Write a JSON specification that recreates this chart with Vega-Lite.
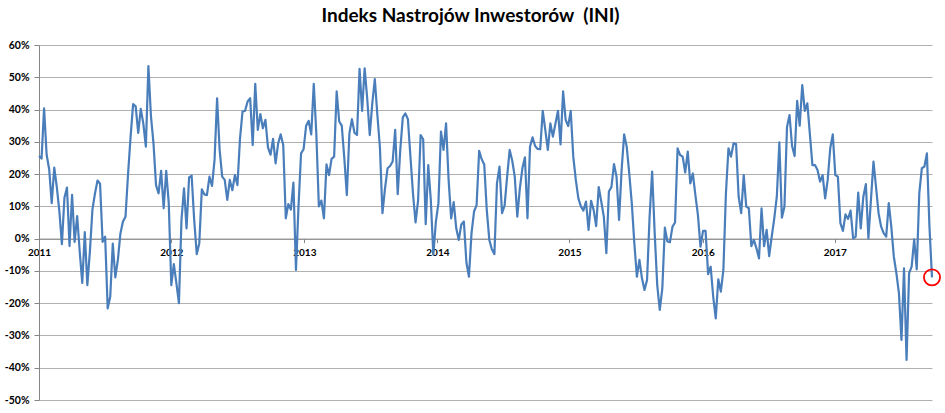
{
"$schema": "https://vega.github.io/schema/vega-lite/v6.json",
"width": 893, "height": 355,
"autosize": {"type": "none"},
"padding": {"left": 39, "top": 45, "right": 13, "bottom": 13},
"background": "white",
"title": {"text": "Indeks Nastrojów Inwestorów \u00a0(INI)", "font": "Lato", "fontSize": 19, "fontWeight": "bold", "color": "#000000", "anchor": "middle", "dx": -15, "offset": -1, "baseline": "alphabetic"},
"config": {"view": {"stroke": null}},
"data": {"values": [
{"w":0,"v":25.6},{"w":1,"v":24.8},{"w":2,"v":40.4},{"w":3,"v":26},{"w":4,"v":21.5},{"w":5,"v":11},{"w":6,"v":22},{"w":7,"v":16},{"w":8,"v":8.5},{"w":9,"v":-1.7},
{"w":10,"v":12.7},{"w":11,"v":15.8},{"w":12,"v":-2.3},{"w":13,"v":13.6},{"w":14,"v":-1},{"w":15,"v":7},{"w":16,"v":-4},{"w":17,"v":-13.7},{"w":18,"v":2},{"w":19,"v":-14.4},
{"w":20,"v":-4},{"w":21,"v":9},{"w":22,"v":14},{"w":23,"v":18},{"w":24,"v":17},{"w":25,"v":-1},{"w":26,"v":0.6},{"w":27,"v":-21.6},{"w":28,"v":-18},{"w":29,"v":-1.5},
{"w":30,"v":-12},{"w":31,"v":-6.6},{"w":32,"v":1.6},{"w":33,"v":5.3},{"w":34,"v":6.8},{"w":35,"v":20},{"w":36,"v":31.6},{"w":37,"v":41.7},{"w":38,"v":41},{"w":39,"v":32.8},
{"w":40,"v":40.2},{"w":41,"v":35.7},{"w":42,"v":28.5},{"w":43,"v":53.5},{"w":44,"v":38},{"w":45,"v":29.5},{"w":46,"v":16.6},{"w":47,"v":14},{"w":48,"v":21},{"w":49,"v":9.4},
{"w":50,"v":21},{"w":51,"v":11},{"w":52,"v":-14.4},{"w":53,"v":-7.9},{"w":54,"v":-13.8},{"w":55,"v":-20},{"w":56,"v":5.8},{"w":57,"v":15.6},{"w":58,"v":3.2},{"w":59,"v":19},
{"w":60,"v":19.5},{"w":61,"v":5.8},{"w":62,"v":-4.8},{"w":63,"v":-1.4},{"w":64,"v":15.3},{"w":65,"v":13.7},{"w":66,"v":13.5},{"w":67,"v":19.2},{"w":68,"v":16.3},{"w":69,"v":24.4},
{"w":70,"v":43.5},{"w":71,"v":27.5},{"w":72,"v":19.2},{"w":73,"v":18.2},{"w":74,"v":12},{"w":75,"v":18.2},{"w":76,"v":15},{"w":77,"v":19.7},{"w":78,"v":16.6},{"w":79,"v":31},
{"w":80,"v":39.4},{"w":81,"v":39.6},{"w":82,"v":42.5},{"w":83,"v":43.5},{"w":84,"v":29},{"w":85,"v":48},{"w":86,"v":33.7},{"w":87,"v":38.6},{"w":88,"v":34.2},{"w":89,"v":36.8},
{"w":90,"v":28.3},{"w":91,"v":26},{"w":92,"v":30.9},{"w":93,"v":23.3},{"w":94,"v":29.5},{"w":95,"v":32.3},{"w":96,"v":29},{"w":97,"v":6.3},{"w":98,"v":10.7},{"w":99,"v":9},
{"w":100,"v":17.4},{"w":101,"v":-9.7},{"w":102,"v":10},{"w":103,"v":26.4},{"w":104,"v":27.7},{"w":105,"v":35},{"w":106,"v":36.5},{"w":107,"v":32.3},{"w":108,"v":48},{"w":109,"v":32.6},
{"w":110,"v":10},{"w":111,"v":11.8},{"w":112,"v":6.3},{"w":113,"v":23},{"w":114,"v":19.7},{"w":115,"v":24.7},{"w":116,"v":25.4},{"w":117,"v":45.6},{"w":118,"v":36.3},{"w":119,"v":35},
{"w":120,"v":25},{"w":121,"v":13.5},{"w":122,"v":32.6},{"w":123,"v":37},{"w":124,"v":32.8},{"w":125,"v":32.1},{"w":126,"v":52.6},{"w":127,"v":39.6},{"w":128,"v":52.8},{"w":129,"v":43.5},
{"w":130,"v":32.1},{"w":131,"v":41.9},{"w":132,"v":49.4},{"w":133,"v":38.3},{"w":134,"v":28.3},{"w":135,"v":7.9},{"w":136,"v":15.6},{"w":137,"v":21.8},{"w":138,"v":22.5},{"w":139,"v":23.9},
{"w":140,"v":33.7},{"w":141,"v":13.8},{"w":142,"v":27.5},{"w":143,"v":37.6},{"w":144,"v":38.8},{"w":145,"v":37},{"w":146,"v":25.4},{"w":147,"v":14},{"w":148,"v":5},{"w":149,"v":11.8},
{"w":150,"v":32.1},{"w":151,"v":30.8},{"w":152,"v":4.5},{"w":153,"v":22.8},{"w":154,"v":12},{"w":155,"v":-5},{"w":156,"v":5.3},{"w":157,"v":11},{"w":158,"v":33.2},{"w":159,"v":27.5},
{"w":160,"v":35.7},{"w":161,"v":18.2},{"w":162,"v":6.3},{"w":163,"v":11.3},{"w":164,"v":3.2},{"w":165,"v":-0.4},{"w":166,"v":4.4},{"w":167,"v":5.3},{"w":168,"v":-7.4},{"w":169,"v":-11.8},
{"w":170,"v":1.7},{"w":171,"v":8.4},{"w":172,"v":10.4},{"w":173,"v":27.2},{"w":174,"v":24.6},{"w":175,"v":23},{"w":176,"v":8.9},{"w":177,"v":-0.4},{"w":178,"v":-3.3},{"w":179,"v":-4.8},
{"w":180,"v":17.1},{"w":181,"v":22.3},{"w":182,"v":7.9},{"w":183,"v":10.2},{"w":184,"v":19.2},{"w":185,"v":27.5},{"w":186,"v":24.2},{"w":187,"v":19.2},{"w":188,"v":6.8},{"w":189,"v":15.6},
{"w":190,"v":21.8},{"w":191,"v":25.2},{"w":192,"v":6.3},{"w":193,"v":28.5},{"w":194,"v":31.4},{"w":195,"v":28.7},{"w":196,"v":27.8},{"w":197,"v":27.7},{"w":198,"v":39.6},{"w":199,"v":33.7},
{"w":200,"v":27.5},{"w":201,"v":35.7},{"w":202,"v":31.6},{"w":203,"v":35.7},{"w":204,"v":39.6},{"w":205,"v":29.2},{"w":206,"v":45.6},{"w":207,"v":36.8},{"w":208,"v":34.9},{"w":209,"v":39.6},
{"w":210,"v":25.4},{"w":211,"v":18.2},{"w":212,"v":12.5},{"w":213,"v":10},{"w":214,"v":8.7},{"w":215,"v":11.5},{"w":216,"v":2.7},{"w":217,"v":11.7},{"w":218,"v":8.9},{"w":219,"v":3.9},
{"w":220,"v":16},{"w":221,"v":11.5},{"w":222,"v":6.8},{"w":223,"v":-4.5},{"w":224,"v":14.6},{"w":225,"v":16},{"w":226,"v":23.1},{"w":227,"v":19.2},{"w":228,"v":5.8},{"w":229,"v":21.3},
{"w":230,"v":32.3},{"w":231,"v":28.5},{"w":232,"v":20.2},{"w":233,"v":11},{"w":234,"v":-1.4},{"w":235,"v":-11.8},{"w":236,"v":-6.6},{"w":237,"v":-12.3},{"w":238,"v":-15.9},{"w":239,"v":-12.8},
{"w":240,"v":6.8},{"w":241,"v":20.8},{"w":242,"v":1.7},{"w":243,"v":-14.4},{"w":244,"v":-22.1},{"w":245,"v":-15.4},{"w":246,"v":3.4},{"w":247,"v":-0.9},{"w":248,"v":-1.1},{"w":249,"v":3.7},
{"w":250,"v":5},{"w":251,"v":28},{"w":252,"v":25.9},{"w":253,"v":25.4},{"w":254,"v":20.5},{"w":255,"v":27},{"w":256,"v":17.1},{"w":257,"v":20.2},{"w":258,"v":13.5},{"w":259,"v":7.3},
{"w":260,"v":-2.5},{"w":261,"v":2.4},{"w":262,"v":2.4},{"w":263,"v":-11},{"w":264,"v":-8.7},{"w":265,"v":-18},{"w":266,"v":-24.7},{"w":267,"v":-12.6},{"w":268,"v":-16.4},{"w":269,"v":-9.7},
{"w":270,"v":14},{"w":271,"v":28},{"w":272,"v":25.4},{"w":273,"v":29.5},{"w":274,"v":29.3},{"w":275,"v":13},{"w":276,"v":7.9},{"w":277,"v":19.7},{"w":278,"v":9.9},{"w":279,"v":9.4},
{"w":280,"v":-2.3},{"w":281,"v":-0.4},{"w":282,"v":-3},{"w":283,"v":-6.1},{"w":284,"v":9.4},{"w":285,"v":-2.3},{"w":286,"v":2.7},{"w":287,"v":-5.4},{"w":288,"v":0.6},{"w":289,"v":6.3},
{"w":290,"v":13},{"w":291,"v":29.8},{"w":292,"v":6.5},{"w":293,"v":9.9},{"w":294,"v":34.5},{"w":295,"v":38.3},{"w":296,"v":28.7},{"w":297,"v":25.6},{"w":298,"v":42.7},{"w":299,"v":35},
{"w":300,"v":47.6},{"w":301,"v":39.6},{"w":302,"v":41.9},{"w":303,"v":32.4},{"w":304,"v":22.8},{"w":305,"v":22.8},{"w":306,"v":21.3},{"w":307,"v":17.7},{"w":308,"v":19.7},{"w":309,"v":12.5},
{"w":310,"v":18.2},{"w":311,"v":28},{"w":312,"v":32.3},{"w":313,"v":19.7},{"w":314,"v":19.2},{"w":315,"v":4.8},{"w":316,"v":2.4},{"w":317,"v":7.5},{"w":318,"v":6.1},{"w":319,"v":8.7},
{"w":320,"v":0.1},{"w":321,"v":0.6},{"w":322,"v":14.3},{"w":323,"v":3.2},{"w":324,"v":13},{"w":325,"v":16.9},{"w":326,"v":0.1},{"w":327,"v":12},{"w":328,"v":23.9},{"w":329,"v":16},
{"w":330,"v":7.9},{"w":331,"v":3.7},{"w":332,"v":1.7},{"w":333,"v":0.6},{"w":334,"v":11},{"w":335,"v":3.7},{"w":336,"v":-5.6},{"w":337,"v":-10.7},{"w":338,"v":-16.9},{"w":339,"v":-31.4},
{"w":340,"v":-9.2},{"w":341,"v":-37.6},{"w":342,"v":-10.7},{"w":343,"v":-8.7},{"w":344,"v":-0.2},{"w":345,"v":-9.5},{"w":346,"v":14},{"w":347,"v":21.8},{"w":348,"v":22.3},{"w":349,"v":26.4},
{"w":350,"v":3.7},{"w":351,"v":-12}
]},
"encoding": {
  "x": {"field": "w", "type": "quantitative", "scale": {"domain": [0, 351], "nice": false, "zero": false},
        "axis": {"title": null, "values": [0, 52, 104.3, 156.6, 208.5, 260.9, 312.8], "labelExpr": "'' + (2011 + round(datum.value / 52.1))", "offset": -161.4, "grid": false, "domainColor": "#868686", "tickColor": "#868686", "tickSize": 4, "labelPadding": 5, "labelFont": "Lato", "labelFontSize": 10, "labelFontWeight": "bold", "labelColor": "#000000", "labelFlush": false, "labelOverlap": false}},
  "y": {"field": "v", "type": "quantitative", "scale": {"domain": [-50, 60], "nice": false},
        "axis": {"title": null, "values": [-50, -40, -30, -20, -10, 0, 10, 20, 30, 40, 50, 60], "labelExpr": "datum.value + '%'", "grid": true, "gridColor": "#b0b0b0", "gridWidth": 1, "domainColor": "#868686", "tickColor": "#868686", "tickSize": 5, "labelPadding": 5, "labelFont": "Lato", "labelFontSize": 10.5, "labelFontWeight": "bold", "labelColor": "#000000", "labelOverlap": false, "labelBound": false}}
},
"layer": [
{"mark": {"type": "line", "color": "#4a7ebb", "strokeWidth": 2.2, "strokeJoin": "round"}},
{"transform": [{"filter": "datum.w == 351"}],
 "mark": {"type": "point", "shape": "circle", "filled": false, "color": "#ff0000", "size": 260, "strokeWidth": 1.8, "opacity": 1}}
]
}
